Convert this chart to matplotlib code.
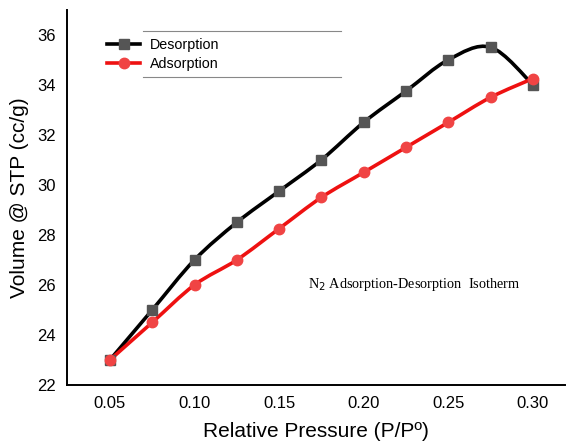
import matplotlib.pyplot as plt
from matplotlib.path import Path
from matplotlib.patches import PathPatch

pressure = [0.05, 0.075, 0.10, 0.125, 0.15, 0.175, 0.20, 0.225, 0.25, 0.275, 0.30]
desorption = [23.0, 25.0, 27.0, 28.5, 29.75, 31.0, 32.5, 33.75, 35.0, 35.5, 34.0]
adsorption = [23.0, 24.5, 26.0, 27.0, 28.25, 29.5, 30.5, 31.5, 32.5, 33.5, 34.25]

xticks = [0.05, 0.10, 0.15, 0.20, 0.25, 0.30]
yticks = [22, 24, 26, 28, 30, 32, 34, 36]


def smooth_path(x, y, t=0.5):
    # catmull-rom as cubic bezier segments
    verts = [(x[0], y[0])]
    codes = [Path.MOVETO]
    n = len(x)
    for i in range(n - 1):
        x0, y0 = (x[i - 1], y[i - 1]) if i > 0 else (x[i], y[i])
        x1, y1 = x[i], y[i]
        x2, y2 = x[i + 1], y[i + 1]
        x3, y3 = (x[i + 2], y[i + 2]) if i + 2 < n else (x2, y2)
        c1 = (x1 + (x2 - x0) * t / 3, y1 + (y2 - y0) * t / 3)
        c2 = (x2 - (x3 - x1) * t / 3, y2 - (y3 - y1) * t / 3)
        verts += [c1, c2, (x2, y2)]
        codes += [Path.CURVE4] * 3
    return Path(verts, codes)


plt.rcParams['font.family'] = ['Liberation Sans', 'DejaVu Sans']

fig = plt.figure(figsize=(5.72, 4.43), dpi=100)
ax = fig.add_axes([0.117, 0.131, 0.871, 0.847])

ax.add_patch(PathPatch(smooth_path(pressure, desorption), fill=False,
                       edgecolor='black', lw=2.6, zorder=2))
ax.add_patch(PathPatch(smooth_path(pressure, adsorption), fill=False,
                       edgecolor='#ee1111', lw=2.6, zorder=2))
ax.plot(pressure, desorption, ls='none', marker='s', ms=6.5, color='#555555', zorder=3)
ax.plot(pressure, adsorption, ls='none', marker='o', ms=7.5, color='#f04444', zorder=4)

# legend handles
ax.plot([], [], color='black', lw=2.6, marker='s', ms=6.5, mfc='#555555', mec='#555555',
        label='Desorption')
ax.plot([], [], color='#ee1111', lw=2.6, marker='o', ms=7.5, mfc='#f04444', mec='#f04444',
        label='Adsorption')
ax.legend(loc='upper left', bbox_to_anchor=(0.055, 0.96), frameon=False,
          fontsize=10.3, handlelength=2.3, handletextpad=0.7, labelspacing=0.35)

# stray grey lines around the legend in the original
ax.plot([0.152, 0.55], [0.943, 0.943], transform=ax.transAxes, color='#888888', lw=0.8)
ax.plot([0.152, 0.55], [0.82, 0.82], transform=ax.transAxes, color='#888888', lw=0.8)

ax.text(0.230, 26.0, r'N$_2$ Adsorption-Desorption  Isotherm', family='Liberation Serif',
        fontsize=10.3, ha='center', va='center')

ax.set_xlim(0.0246, 0.319)
ax.set_ylim(22, 37)
ax.set_xticks(xticks)
ax.set_xticklabels([f'{v:.2f}' for v in xticks])
ax.set_yticks(yticks)
ax.tick_params(length=0, labelsize=12, pad=8)
ax.spines['top'].set_visible(False)
ax.spines['right'].set_visible(False)
ax.spines['left'].set_linewidth(1.4)
ax.spines['bottom'].set_linewidth(1.4)

ax.set_xlabel('Relative Pressure (P/Pº)', fontsize=15, labelpad=8)
ax.set_ylabel('Volume @ STP (cc/g)', fontsize=15, labelpad=6)

fig.savefig('out.png', dpi=100)
